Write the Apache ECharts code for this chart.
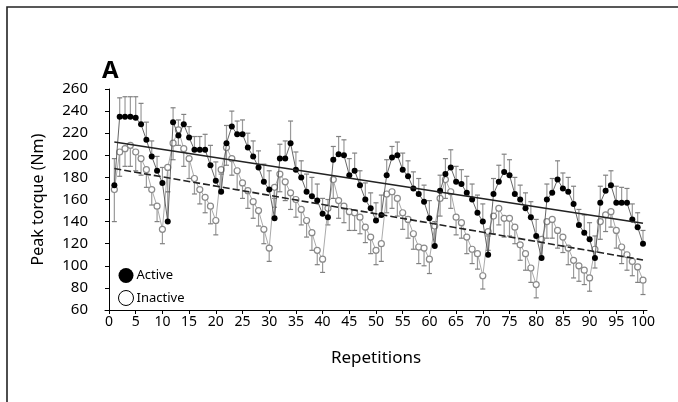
<!DOCTYPE html>
<html>
<head>
<meta charset="utf-8">
<script src="https://cdn.jsdelivr.net/npm/echarts@6/dist/echarts.min.js"></script>
<style>
  html, body { margin: 0; padding: 0; background: #fff; }
  #chart { width: 678px; height: 402px; }
</style>
</head>
<body>
<div id="chart"></div>
<script>
// repetitions 1..100
var reps = [];
for (var r = 1; r <= 100; r++) reps.push(r);

// peak torque, active leg (Nm)
var active = [
  173, 235, 235, 235, 234, 228, 214, 199, 186, 175,
  140, 230, 218, 228, 216, 205, 205, 205, 191, 177,
  167, 211, 226, 219, 219, 207, 199, 189, 176, 169,
  143, 197, 197, 211, 187, 180, 167, 163, 159, 147,
  144, 196, 201, 200, 182, 186, 173, 160, 152, 141,
  146, 182, 198, 200, 187, 181, 170, 165, 158, 143,
  118, 168, 183, 189, 176, 174, 166, 160, 148, 140,
  110, 165, 176, 185, 182, 165, 160, 152, 144, 127,
  107, 160, 166, 178, 170, 167, 156, 137, 130, 124,
  107, 157, 168, 173, 157, 157, 157, 142, 135, 120
];
// upward error (SD) for active
var activeSd = [
  24, 17, 18, 18, 19, 19, 16, 14, 13, 14,
  27, 13, 14, 9, 10, 12, 12, 14, 18, 17,
  16, 16, 14, 12, 13, 13, 14, 15, 16, 17,
  18, 13, 16, 20, 16, 15, 16, 17, 15, 14,
  16, 12, 16, 14, 15, 16, 13, 15, 14, 16,
  18, 14, 10, 12, 15, 14, 15, 14, 15, 16,
  22, 14, 14, 16, 14, 13, 15, 14, 16, 16,
  17, 14, 15, 16, 14, 15, 13, 14, 14, 15,
  16, 14, 13, 17, 14, 13, 16, 14, 16, 15,
  20, 15, 14, 13, 15, 14, 13, 14, 13, 12
];

// peak torque, inactive leg (Nm)
var inactive = [
  169, 203, 206, 209, 203, 197, 187, 169, 154, 133,
  189, 211, 223, 206, 197, 179, 169, 162, 154, 141,
  187, 207, 197, 186, 175, 168, 158, 150, 133, 116,
  171, 183, 176, 166, 160, 151, 141, 130, 114, 106,
  152, 178, 159, 154, 149, 148, 144, 135, 126, 114,
  120, 165, 167, 161, 148, 142, 129, 117, 116, 106,
  136, 161, 178, 167, 144, 139, 126, 115, 111, 91,
  131, 145, 152, 143, 143, 135, 119, 111, 98, 83,
  124, 140, 142, 132, 126, 116, 105, 100, 96, 89,
  115, 140, 146, 149, 132, 117, 110, 104, 99, 87
];
// downward error (SD) for inactive
var inactiveSd = [
  29, 22, 16, 19, 17, 15, 16, 14, 14, 13,
  22, 15, 14, 16, 18, 14, 13, 14, 16, 13,
  18, 16, 15, 17, 14, 16, 15, 14, 13, 12,
  18, 16, 17, 15, 16, 14, 15, 16, 13, 12,
  15, 17, 16, 15, 17, 16, 15, 14, 15, 13,
  16, 17, 15, 16, 15, 17, 14, 15, 16, 13,
  18, 16, 17, 15, 16, 14, 15, 13, 14, 12,
  17, 16, 15, 17, 16, 15, 14, 15, 13, 12,
  16, 15, 17, 16, 14, 15, 16, 14, 13, 12,
  17, 16, 15, 14, 16, 15, 14, 13, 14, 13
];

// linear trend lines, read at rep 1 and rep 100
var trendX = [1, 100];
var trendActive = [212, 138.5];
var trendInactive = [188, 105.3];

var xTicks = [0, 5, 10, 15, 20, 25, 30, 35, 40, 45, 50, 55, 60, 65, 70, 75, 80, 85, 90, 95, 100];

var font = 'Noto Sans';

function pairs(xs, ys) {
  return xs.map(function (x, i) { return [x, ys[i]]; });
}
function triples(xs, ys, es) {
  return xs.map(function (x, i) { return [x, ys[i], es[i]]; });
}

// error bar with cap, dir = 1 up, -1 down
function errBar(dir) {
  return function (params, api) {
    var x = api.value(0), y = api.value(1), e = api.value(2);
    var p0 = api.coord([x, y]);
    var p1 = api.coord([x, y + dir * e]);
    var hw = 2.5;
    return {
      type: 'group',
      children: [
        { type: 'line', shape: { x1: p0[0], y1: p0[1], x2: p1[0], y2: p1[1] },
          style: { stroke: '#9a9a9a', lineWidth: 1.2 } },
        { type: 'line', shape: { x1: p1[0] - hw, y1: p1[1], x2: p1[0] + hw, y2: p1[1] },
          style: { stroke: '#808080', lineWidth: 1.2 } }
      ]
    };
  };
}

var chart = echarts.init(document.getElementById('chart'), null, { renderer: 'canvas' });

chart.setOption({
  animation: false,
  backgroundColor: '#fff',
  textStyle: { fontFamily: font },
  title: {
    text: 'A',
    left: 97,
    top: 54,
    textStyle: { fontFamily: font, fontSize: 24, fontWeight: 'bold', color: '#000' }
  },
  graphic: [{
    type: 'polyline',
    shape: { points: [[7, 402], [7, 7], [678, 7]] },
    style: { stroke: '#222', lineWidth: 1.6, fill: null }
  }],
  legend: {
    orient: 'vertical',
    left: 113,
    top: 263,
    itemWidth: 15,
    itemHeight: 15,
    itemGap: 7,
    icon: 'circle',
    textStyle: { fontFamily: font, fontSize: 13, color: '#000', padding: [0, 0, 0, -2] },
    data: [
      { name: 'Active', itemStyle: { color: '#000', borderWidth: 0 } },
      { name: 'Inactive', itemStyle: { color: '#fff', borderColor: '#000', borderWidth: 1 } }
    ]
  },
  grid: { left: 105, right: 31, top: 89, bottom: 92 },
  xAxis: {
    type: 'value',
    min: -0.75,
    max: 100.75,
    name: 'Repetitions',
    nameLocation: 'middle',
    nameGap: 40,
    nameTextStyle: { fontFamily: font, fontSize: 17, color: '#000' },
    axisLine: { lineStyle: { color: '#000', width: 1 } },
    axisTick: { customValues: xTicks, length: 4, lineStyle: { color: '#000' } },
    axisLabel: { customValues: xTicks, margin: 5, fontFamily: font, fontSize: 14, color: '#000' },
    splitLine: { show: false }
  },
  yAxis: {
    type: 'value',
    min: 60,
    max: 260,
    interval: 20,
    offset: 10,
    name: 'Peak torque (Nm)',
    nameLocation: 'middle',
    nameGap: 49,
    nameTextStyle: { fontFamily: font, fontSize: 16, color: '#000' },
    axisLine: { show: true, lineStyle: { color: '#000', width: 1 } },
    axisTick: { show: true, length: 4, lineStyle: { color: '#000' } },
    axisLabel: { margin: 7, fontFamily: font, fontSize: 15, color: '#000' },
    splitLine: { show: false }
  },
  series: [
    {
      name: 'inactiveErr',
      type: 'custom',
      renderItem: errBar(-1),
      encode: { x: 0, y: 1 },
      data: triples(reps, inactive, inactiveSd),
      z: 1,
      silent: true
    },
    {
      name: 'activeErr',
      type: 'custom',
      renderItem: errBar(1),
      encode: { x: 0, y: 1 },
      data: triples(reps, active, activeSd),
      z: 1,
      silent: true
    },
    {
      name: 'Inactive',
      type: 'line',
      data: pairs(reps, inactive),
      symbol: 'circle',
      symbolSize: 6,
      lineStyle: { color: '#a0a0a0', width: 0.9 },
      itemStyle: { color: '#fff', borderColor: '#8a8a8a', borderWidth: 1.2 },
      z: 3
    },
    {
      name: 'Active',
      type: 'line',
      data: pairs(reps, active),
      symbol: 'circle',
      symbolSize: 6,
      lineStyle: { color: '#555', width: 0.9 },
      itemStyle: { color: '#000' },
      z: 4
    },
    {
      name: 'trendInactive',
      type: 'line',
      data: pairs(trendX, trendInactive),
      symbol: 'none',
      lineStyle: { color: '#222', width: 1.6, type: [7, 3] },
      z: 5,
      silent: true
    },
    {
      name: 'trendActive',
      type: 'line',
      data: pairs(trendX, trendActive),
      symbol: 'none',
      lineStyle: { color: '#222', width: 1.6 },
      z: 5,
      silent: true
    }
  ]
});
</script>
</body>
</html>
